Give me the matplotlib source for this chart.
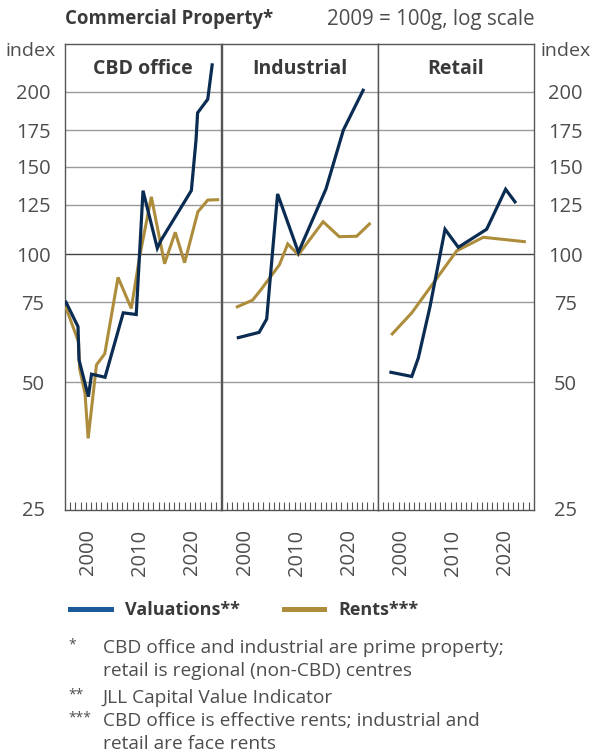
import numpy as np
import matplotlib.pyplot as plt
from matplotlib.lines import Line2D
from matplotlib.ticker import FixedLocator, NullFormatter

plt.rcParams['font.family'] = ['Open Sans', 'DejaVu Sans']

NAVY = '#0b2c52'
GOLD = '#ad8d3b'
LEGEND_BLUE = '#1a5b98'
TEXT = '#4d4d4d'
DARK = '#3a3a3a'

PANELS = ['CBD office', 'Industrial', 'Retail']
Y_TICKS = [25, 50, 75, 100, 125, 150, 175, 200]
YEAR_LABELS = ['2000', '2010', '2020']

# CBD office
cbd_val_years = [1996.2, 1998.5, 1998.7, 2000.5, 2001.1, 2003.7, 2007.2, 2009.7,
                 2011.0, 2013.75, 2014.5, 2020.3, 2021.2, 2021.5, 2023.45, 2024.3]
cbd_val = [75.0, 66.3, 56.0, 46.2, 52.1, 51.3, 71.1, 70.5,
           133.9, 102.8, 106.7, 134.0, 168.0, 185.8, 194.8, 219.6]
cbd_rent_years = [1996.2, 1998.6, 1998.8, 1999.85, 2000.45, 2002.05, 2003.65, 2006.2,
                  2008.75, 2010.35, 2012.6, 2015.15, 2017.2, 2019.0, 2021.55, 2023.45, 2025.35]
cbd_rent = [72.9, 61.4, 53.7, 47.0, 36.7, 54.6, 57.8, 87.1,
            72.7, 98.6, 130.0, 94.5, 110.5, 95.1, 121.2, 128.0, 128.2]

# Industrial
ind_val_years = [1999.2, 2003.2, 2004.65, 2006.75, 2010.75, 2016.05, 2019.4, 2023.2]
ind_val = [62.7, 64.4, 68.9, 131.8, 100.9, 135.0, 175.0, 201.0]
ind_rent_years = [1999.0, 2001.95, 2003.7, 2007.1, 2008.7, 2010.75, 2015.5, 2018.6, 2021.95, 2024.4]
ind_rent = [73.3, 76.0, 81.4, 93.9, 104.8, 99.7, 115.9, 108.3, 108.5, 114.7]

# Retail
ret_val_years = [1998.55, 2002.55, 2003.8, 2006.05, 2008.95, 2011.5, 2016.95, 2020.6, 2022.4]
ret_val = [52.6, 51.5, 56.5, 73.3, 112.0, 103.2, 112.0, 134.8, 126.9]
ret_rent_years = [1998.8, 2002.55, 2011.2, 2016.3, 2024.2]
ret_rent = [63.9, 71.1, 101.6, 108.0, 105.9]

valuations = [(cbd_val_years, cbd_val), (ind_val_years, ind_val), (ret_val_years, ret_val)]
rents = [(cbd_rent_years, cbd_rent), (ind_rent_years, ind_rent), (ret_rent_years, ret_rent)]

# the printed scale is not evenly logarithmic, so map log values piecewise
SCALE_LOG = np.log10([12.5, 25, 50, 75, 100, 125, 150, 175, 200, 400])
SCALE_POS = np.array([-122.7, 2, 127.7, 207.7, 255.7, 305, 343, 380, 418.3, 617])


def fwd(v):
    v = np.asarray(v, dtype=float)
    return np.interp(np.log10(np.clip(v, 1e-3, None)), SCALE_LOG, SCALE_POS)


def inv(p):
    return 10 ** np.interp(np.asarray(p, dtype=float), SCALE_POS, SCALE_LOG)


W, H = 592, 756
fig = plt.figure(figsize=(W / 100, H / 100), dpi=100)

left_px = [65, 221.7, 377.7]
panel_w = 156
bottom_px, top_px = 510, 44

for i, name in enumerate(PANELS):
    ax = fig.add_axes([left_px[i] / W, 1 - bottom_px / H,
                       panel_w / W, (bottom_px - top_px) / H])
    ax.set_yscale('function', functions=(fwd, inv))
    ax.set_ylim(inv(0), inv(bottom_px - top_px))
    ax.set_xlim(1996, 2026)

    for t in Y_TICKS[1:]:
        ax.axhline(t, color='#444444' if t == 100 else '#9a9a9a',
                   lw=1.0, zorder=1)

    x, y = rents[i]
    ax.plot(x, y, color=GOLD, lw=2.2, zorder=3, solid_joinstyle='miter')
    x, y = valuations[i]
    ax.plot(x, y, color=NAVY, lw=2.3, zorder=4, solid_joinstyle='miter')

    ax.text(0.5, 0.947, name, transform=ax.transAxes, ha='center', va='center',
            fontsize=14, fontweight='bold', color=DARK)

    for s in ax.spines.values():
        s.set_color('#555555')
        s.set_linewidth(1.0)

    ax.yaxis.set_major_locator(FixedLocator(Y_TICKS))
    ax.yaxis.set_minor_locator(FixedLocator([]))
    ax.yaxis.set_minor_formatter(NullFormatter())
    if i == 0:
        ax.tick_params(axis='y', length=0, pad=23, labelsize=14.5, labelcolor=TEXT)
        for lab in ax.get_yticklabels():
            lab.set_horizontalalignment('center')
    elif i == 2:
        ax.yaxis.tick_right()
        ax.tick_params(axis='y', length=0, pad=23, labelsize=14.5, labelcolor=TEXT)
        for lab in ax.get_yticklabels():
            lab.set_horizontalalignment('center')
    else:
        ax.tick_params(axis='y', length=0, labelleft=False)

    ax.xaxis.set_major_locator(FixedLocator([2000.5, 2010.5, 2020.5]))
    ax.set_xticklabels(YEAR_LABELS, rotation=90)
    ax.xaxis.set_minor_locator(FixedLocator(np.arange(1997, 2026)))
    ax.tick_params(axis='x', which='major', length=0, pad=14, labelsize=14.5, labelcolor=TEXT)
    ax.tick_params(axis='x', which='minor', direction='in', length=5.5,
                   width=0.8, color='#555555')

fig.text(65 / W, 1 - 19 / H, 'Commercial Property*', ha='left', va='center',
         fontsize=13.4, fontweight='bold', color=DARK)
fig.text(535 / W, 1 - 19 / H, '2009 = 100g, log scale', ha='right', va='center',
         fontsize=14.8, color=TEXT)
fig.text(56 / W, 1 - 51 / H, 'index', ha='right', va='center', fontsize=14, color=TEXT)
fig.text(541 / W, 1 - 51 / H, 'index', ha='left', va='center', fontsize=14, color=TEXT)

handles = [Line2D([], [], color=LEGEND_BLUE, lw=3.6),
           Line2D([], [], color=GOLD, lw=3.6)]
leg = fig.legend(handles, ['Valuations**', 'Rents***'], loc='center left',
                 bbox_to_anchor=(54 / W, 1 - 610 / H), ncol=2, frameon=False,
                 handlelength=2.25, handletextpad=0.8, columnspacing=2.4,
                 prop={'weight': 'bold', 'size': 13})
for t in leg.get_texts():
    t.set_color(DARK)

notes = [
    (648, '*', 'CBD office and industrial are prime property;'),
    (671, '', 'retail is regional (non-CBD) centres'),
    (698, '**', 'JLL Capital Value Indicator'),
    (721, '***', 'CBD office is effective rents; industrial and'),
    (744, '', 'retail are face rents'),
]
for ypx, mark, line in notes:
    if mark:
        fig.text(68 / W, 1 - (ypx - 3) / H, mark, ha='left', va='center',
                 fontsize=10, color=TEXT)
    fig.text(103 / W, 1 - ypx / H, line, ha='left', va='center',
             fontsize=13.8, color=TEXT)

fig.savefig('out.png', dpi=100)
